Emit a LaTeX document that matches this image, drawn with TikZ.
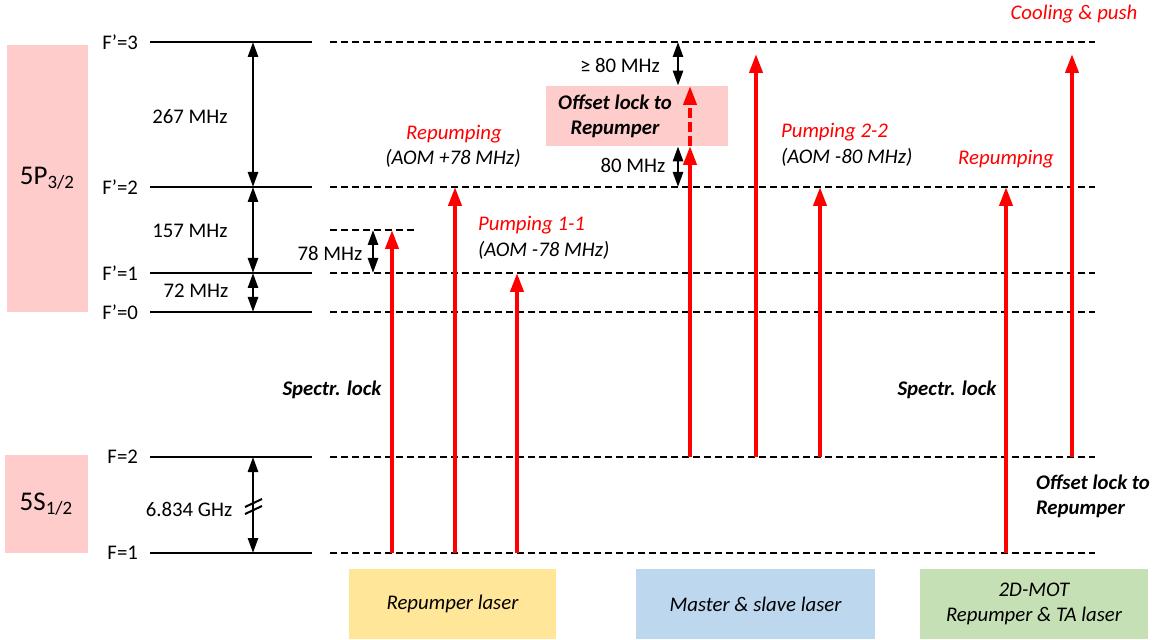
\documentclass[tikz,border=0pt]{standalone}
\usepackage{fontspec}
\setmainfont{Carlito}
\usetikzlibrary{arrows.meta}

\definecolor{statepink}{RGB}{255,204,204}
\definecolor{repyellow}{RGB}{255,230,153}
\definecolor{masterblue}{RGB}{189,215,238}
\definecolor{motgreen}{RGB}{197,224,180}
\newcommand{\lblfont}{\fontsize{10.4}{12.4}\selectfont}

\begin{document}
\begin{tikzpicture}[x=0.5pt,y=-0.5pt,font=\lblfont,
  level/.style={line width=1pt},
  virtual/.style={line width=1.3pt,dash pattern=on 3.5pt off 2pt},
  gap/.style={line width=1.3pt,{Triangle[length=7.5pt,width=5pt]}-{Triangle[length=7.5pt,width=5pt]}},
  laser/.style={line width=2pt,red,-{Triangle[length=9.5pt,width=6.5pt]}},
  statebox/.style={fill=statepink,inner sep=0pt},
  laserbox/.style={inner sep=0pt,align=center,font=\lblfont\itshape,minimum height=35pt},
  beam/.style={red,font=\lblfont\itshape},
  aom/.style={font=\lblfont\itshape},
  lock/.style={font=\lblfont\bfseries\itshape}]

  \useasboundingbox (0,0) rectangle (1159,640);

  % hyperfine levels
  \coordinate (e3) at (0,42);
  \coordinate (e2) at (0,187);
  \coordinate (e1) at (0,273);
  \coordinate (e0) at (0,312);
  \coordinate (eh) at (0,230);
  \coordinate (g2) at (0,457);
  \coordinate (g1) at (0,553);

  \node[statebox,minimum width=40.5pt,minimum height=133.5pt] (p32) at (47.5,178.5) {\raisebox{-2pt}{\fontsize{13.5}{15}\selectfont 5P\textsubscript{3/2}}};
  \node[statebox,minimum width=41.5pt,minimum height=49pt] (s12) at (46.5,504) {\fontsize{13.5}{15}\selectfont 5S\textsubscript{1/2}};

  \foreach \c/\t in {e3/F’=3, e2/F’=2, e1/F’=1, e0/F’=0, g2/F=2, g1/F=1} {
    \node[left] (l\c) at ([xshift=72.5pt]\c) {\t};
    \draw[level] ([xshift=75pt]\c) -- ([xshift=156pt]\c);
    \draw[virtual] ([xshift=165pt]\c) -- ([xshift=547.5pt]\c);
  }
  \draw[virtual] ([xshift=165pt]eh) -- ([xshift=207.5pt]eh);

  % splittings
  \coordinate (sx) at (253,0);
  \coordinate (hx) at (373,0);
  \coordinate (ox) at (678,0);
  \draw[gap] (sx |- e3) -- (sx |- e2);
  \draw[gap] (sx |- e2) -- (sx |- e1);
  \draw[gap] (sx |- e1) -- (sx |- e0);
  \draw[gap] (hx |- eh) -- (hx |- e1);
  \draw[gap] (sx |- g2) -- (sx |- g1);
  \draw[line width=1pt] (245,514) -- (262,506);
  \draw[line width=1pt] (245,507) -- (262,499);

  \node (d267) at (190,117) {267 MHz};
  \node (d157) at (190,231) {157 MHz};
  \node (d72) at (196,291) {72 MHz};
  \node (d78) at (330,253) {78 MHz};
  \node (dgs) at (189,509) {6.834 GHz};

  % offset lock box
  \node[statebox,minimum width=91pt,minimum height=30pt] (offbox) at (637,116) {};
  \node[lock,align=center] (offtxt) at (615,116) {Offset lock to\\Repumper};
  \draw[gap] (ox |- e3) -- (ox |- offbox.north);
  \draw[gap] (ox |- offbox.south) -- (ox |- e2);
  \node (d80a) at (620,65) {≥ 80 MHz};
  \node (d80b) at (633,165) {80 MHz};

  % laser transitions
  \foreach \n/\x/\lo/\hi in {ra/392/553/230, rb/455/553/187, rc/517/553/273,
      ma/690/457/146, mb/756/457/54, mc/820/457/187,
      ta/1006/553/187, tb/1072/457/54} {
    \coordinate (\n0) at (\x,\lo);
    \coordinate (\n1) at (\x,\hi);
    \draw[laser] (\n0) -- (\n1);
  }
  \coordinate (ma2) at (690,86);
  \draw[laser,dash pattern=on 5pt off 2pt] (ma1) -- (ma2);

  \node[beam] (rep1) at (454,134) {Repumping};
  \node[aom] (aom1) at (453,158) {(AOM +78 MHz)};
  \node[beam,anchor=west] (pump1) at (471,225) {Pumping 1-1};
  \node[aom,anchor=west] (aom2) at (471,250) {(AOM -78 MHz)};
  \node[beam,anchor=west] (pump2) at (774,132) {Pumping 2-2};
  \node[aom,anchor=west] (aom3) at (774,157) {(AOM -80 MHz)};
  \node[beam] (rep2) at (1006,159) {Repumping};
  \node[beam] (cool) at (1074,14) {Cooling \& push};

  \node[lock] (spec1) at (332,390) {Spectr. lock};
  \node[lock] (spec2) at (947,390) {Spectr. lock};
  \node[lock,anchor=west,align=left] (off2) at (1029,496) {Offset lock to\\Repumper};

  % lasers
  \node[laserbox,fill=repyellow,minimum width=103.5pt] (replaser) at (452.5,604) {Repumper laser};
  \node[laserbox,fill=masterblue,minimum width=119.5pt] (mslaser) at (755.5,604) {Master \& slave laser};
  \node[laserbox,fill=motgreen,minimum width=114pt] (motlaser) at (1034,604) {2D-MOT\\Repumper \& TA laser};

\end{tikzpicture}
\end{document}
